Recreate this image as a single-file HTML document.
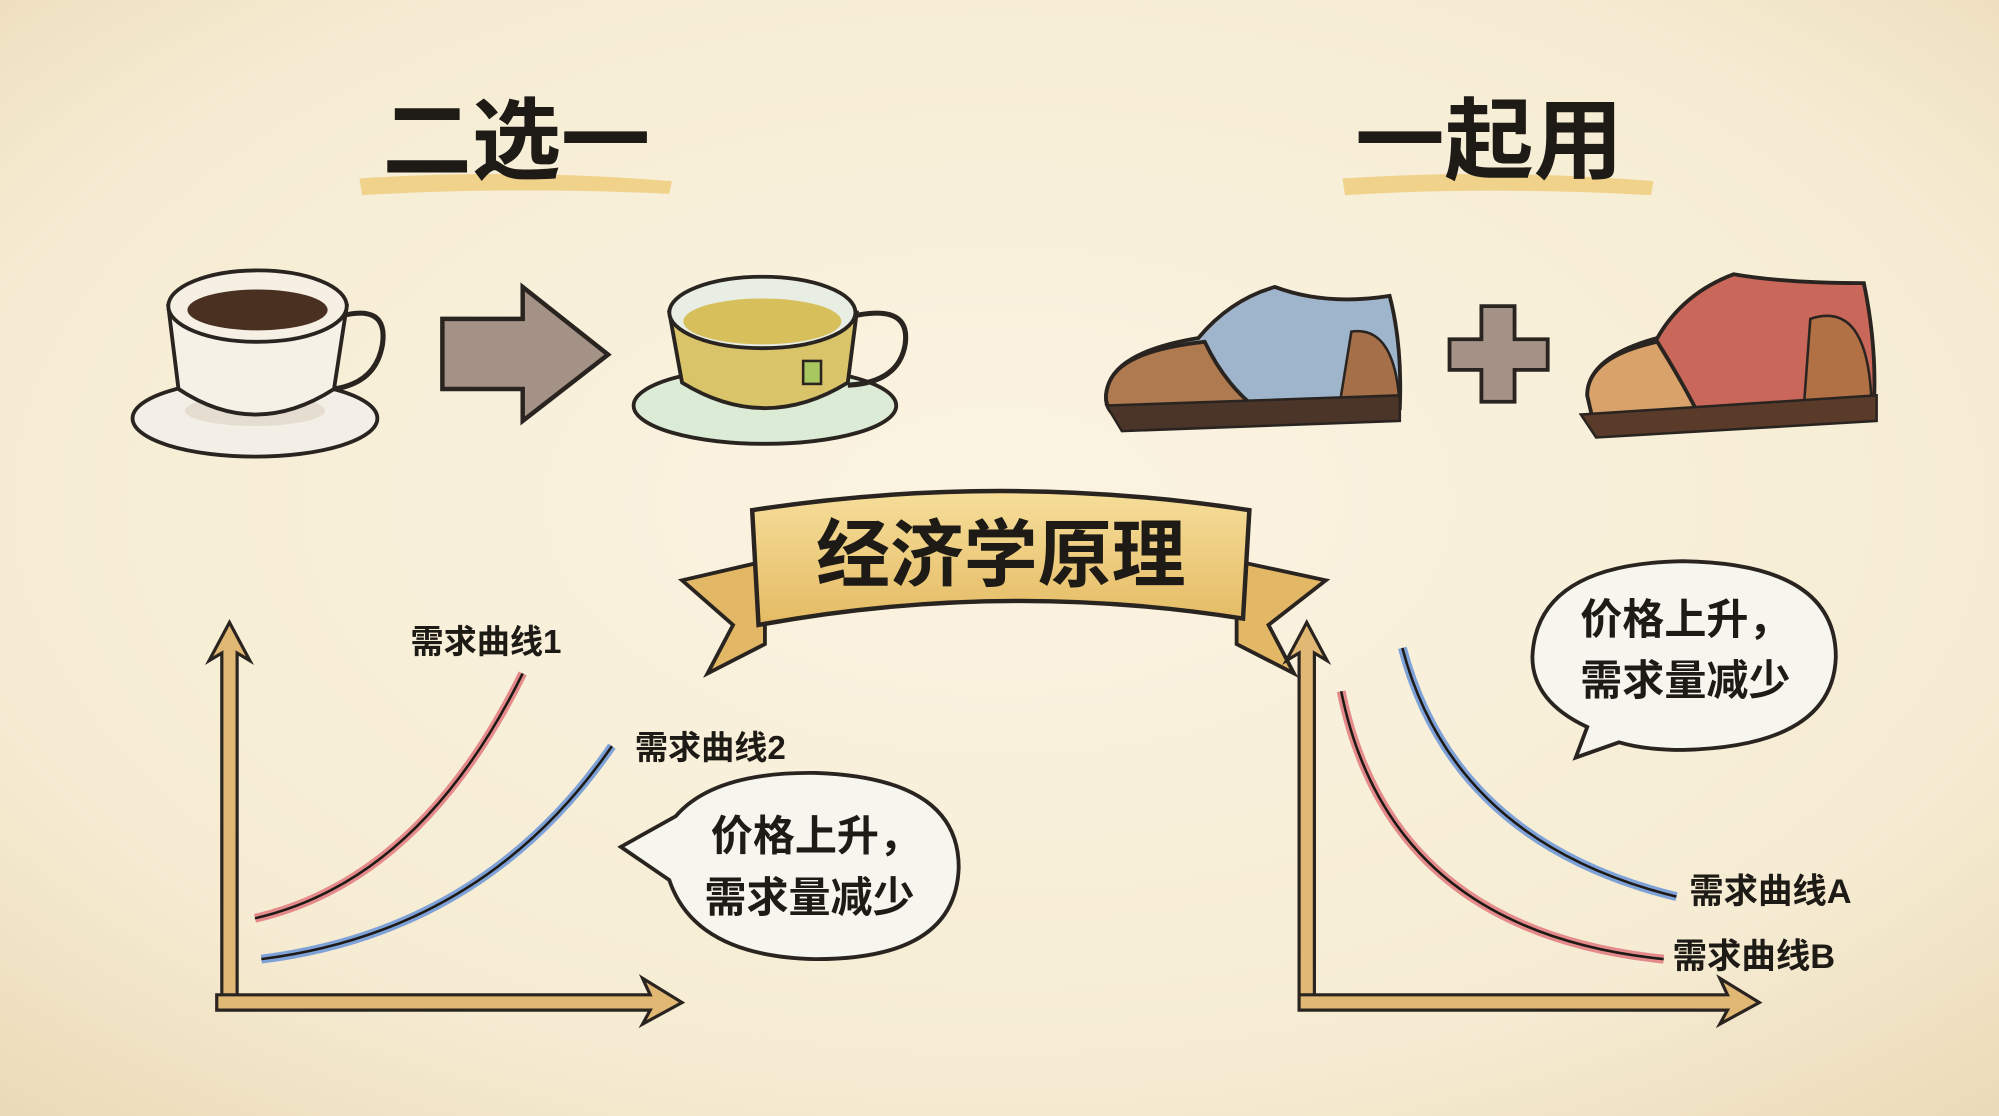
<!DOCTYPE html>
<html><head><meta charset="utf-8"><style>
html,body{margin:0;padding:0;background:#f6eedb;}
svg{display:block;}
text{font-family:"Liberation Sans","Noto Sans CJK SC",sans-serif;font-weight:bold;fill:#1e1a16;}
</style></head><body>
<svg width="1999" height="1116" viewBox="0 0 1568 875" preserveAspectRatio="none" xmlns="http://www.w3.org/2000/svg">
<defs>
<radialGradient id="bg" cx="50%" cy="45%" r="75%">
<stop offset="0" stop-color="#fbf4e2"/><stop offset="0.7" stop-color="#f6ecd3"/><stop offset="1" stop-color="#ead9b6"/>
</radialGradient>
<linearGradient id="rib" x1="0" y1="0" x2="0" y2="1"><stop offset="0" stop-color="#f6de9a"/><stop offset="1" stop-color="#e4bb64"/></linearGradient>
</defs>
<rect width="1568" height="875" fill="url(#bg)"/>
<!-- title highlights -->
<path d="M282 140 Q400 132 527 142 L525 152 Q400 146 284 153Z" fill="#efcd7c" opacity="0.85"/>
<path d="M1053 140 Q1170 132 1297 142 L1295 153 Q1170 146 1055 153Z" fill="#efcd7c" opacity="0.85"/>
<text x="405" y="135" font-size="70" text-anchor="middle">二选一</text>
<text x="1168" y="135" font-size="70" text-anchor="middle">一起用</text>
<!-- coffee cup -->
<ellipse cx="200" cy="328" rx="96" ry="30" fill="#f3efe6" stroke="#2a2420" stroke-width="3"/>
<ellipse cx="200" cy="322" rx="55" ry="12" fill="#e5ddd0"/>
<path d="M260 250 Q305 235 300 270 Q295 300 262 305" fill="none" stroke="#2a2420" stroke-width="4"/>
<path d="M132 240 L140 305 Q200 345 262 305 L272 240Z" fill="#f6f1e7" stroke="#2a2420" stroke-width="3"/>
<ellipse cx="202" cy="240" rx="70" ry="28" fill="#f5efe4" stroke="#2a2420" stroke-width="3"/>
<ellipse cx="202" cy="243" rx="55" ry="16" fill="#4a3020"/>
<!-- arrow -->
<path d="M347 250 L410 250 L410 225 L477 278 L410 330 L410 305 L347 305Z" fill="#a59287" stroke="#2a2420" stroke-width="3.5"/>
<!-- tea cup -->
<ellipse cx="600" cy="318" rx="103" ry="30" fill="#dcebd6" stroke="#2a2420" stroke-width="3"/>
<path d="M660 250 Q715 235 710 270 Q705 300 665 302" fill="none" stroke="#2a2420" stroke-width="4"/>
<path d="M525 245 L535 300 Q600 340 665 300 L672 245Z" fill="#d9c46a" stroke="#2a2420" stroke-width="3"/>
<ellipse cx="598" cy="245" rx="73" ry="28" fill="#e8eee3" stroke="#2a2420" stroke-width="3"/>
<ellipse cx="598" cy="252" rx="62" ry="18" fill="#d7bf5c"/>
<rect x="630" y="283" width="14" height="18" fill="#a8c760" stroke="#2a2420" stroke-width="2"/>
<!-- shoe1 -->
<path d="M870 300 Q880 275 940 265 Q965 235 1000 225 Q1040 240 1090 232 Q1100 270 1098 320 L880 330 Q862 320 870 300Z" fill="#9fb5cc" stroke="#2a2420" stroke-width="3"/>
<path d="M870 300 Q880 275 945 268 Q960 300 985 320 L880 330 Q862 320 870 300Z" fill="#b07a50" stroke="#2a2420" stroke-width="3"/>
<path d="M1060 260 Q1095 255 1098 320 L1050 322Z" fill="#a57048" stroke="#2a2420" stroke-width="2"/>
<path d="M868 318 L1098 310 L1098 330 L880 338Z" fill="#4a3528" stroke="#2a2420" stroke-width="2"/>
<!-- plus -->
<path d="M1162 240 L1188 240 L1188 266 L1214 266 L1214 290 L1188 290 L1188 315 L1162 315 L1162 290 L1137 290 L1137 266 L1162 266Z" fill="#a59287" stroke="#2a2420" stroke-width="3"/>
<!-- shoe2 -->
<path d="M1245 310 Q1245 280 1300 265 Q1320 230 1360 215 Q1400 222 1462 222 Q1472 270 1470 315 L1250 330Z" fill="#c9675a" stroke="#2a2420" stroke-width="3"/>
<path d="M1245 310 Q1245 280 1300 268 Q1320 300 1335 330 L1250 332Z" fill="#d8a26a" stroke="#2a2420" stroke-width="3"/>
<path d="M1420 250 Q1465 235 1468 315 L1415 318Z" fill="#b27045" stroke="#2a2420" stroke-width="2"/>
<path d="M1240 325 L1472 310 L1472 330 L1252 343Z" fill="#5a3b2a" stroke="#2a2420" stroke-width="2"/>
<!-- banner -->
<path d="M535 455 L600 440 L600 505 L555 528 L575 490Z" fill="#e2b866" stroke="#2a2420" stroke-width="3"/>
<path d="M1040 455 L970 440 L970 505 L1015 528 L995 490Z" fill="#e2b866" stroke="#2a2420" stroke-width="3"/>
<path d="M590 400 Q785 370 980 400 L975 485 Q785 455 595 490Z" fill="url(#rib)" stroke="#2a2420" stroke-width="3.5"/>
<text x="785" y="455" font-size="58" text-anchor="middle">经济学原理</text>
<!-- left chart -->
<g fill="#e0b874" stroke="#2a2420" stroke-width="2.5">
<path d="M174 790 L174 512 L164 518 L180 488 L196 518 L186 512 L186 790Z"/>
<path d="M170 780 L510 780 L504 767 L535 786 L504 803 L510 792 L170 792Z"/>
<path d="M1019 790 L1019 512 L1009 518 L1025 488 L1041 518 L1031 512 L1031 790Z"/>
<path d="M1019 780 L1355 780 L1349 767 L1380 786 L1349 803 L1355 792 L1019 792Z"/>
</g>
<path d="M200 720 Q330 690 410 528" fill="none" stroke="#e58a8a" stroke-width="7"/>
<path d="M200 720 Q330 690 410 528" fill="none" stroke="#1e1a16" stroke-width="2"/>
<path d="M205 752 Q380 730 480 585" fill="none" stroke="#7ea2d8" stroke-width="7"/>
<path d="M205 752 Q380 730 480 585" fill="none" stroke="#1e1a16" stroke-width="2"/>
<text x="322" y="512" font-size="26">需求曲线1</text>
<text x="498" y="595" font-size="26">需求曲线2</text>
<path d="M530 640 Q560 605 640 606 Q752 610 752 680 Q750 752 640 752 Q545 750 525 690 L487 664 Z" fill="#f7f6ee" stroke="#2a2420" stroke-width="3"/>
<path d="M532 648 Q525 670 530 690" fill="#f7f6ee" stroke="none"/>
<text x="640" y="667" font-size="33" text-anchor="middle">价格上升，</text>
<text x="635" y="715" font-size="33" text-anchor="middle">需求量减少</text>
<!-- right chart -->
<path d="M1100 508 Q1140 660 1315 703" fill="none" stroke="#7ea2d8" stroke-width="7"/>
<path d="M1100 508 Q1140 660 1315 703" fill="none" stroke="#1e1a16" stroke-width="2"/>
<path d="M1052 542 Q1090 730 1305 752" fill="none" stroke="#e58a8a" stroke-width="7"/>
<path d="M1052 542 Q1090 730 1305 752" fill="none" stroke="#1e1a16" stroke-width="2"/>
<text x="1325" y="708" font-size="27">需求曲线A</text>
<text x="1312" y="759" font-size="27">需求曲线B</text>
<path d="M1320 440 Q1440 442 1440 515 Q1438 585 1320 588 Q1290 588 1270 582 L1236 594 L1245 570 Q1202 550 1202 515 Q1205 442 1320 440Z" fill="#f7f6ee" stroke="#2a2420" stroke-width="3"/>
<text x="1322" y="497" font-size="33" text-anchor="middle">价格上升，</text>
<text x="1322" y="545" font-size="33" text-anchor="middle">需求量减少</text>
</svg>
</body></html>
